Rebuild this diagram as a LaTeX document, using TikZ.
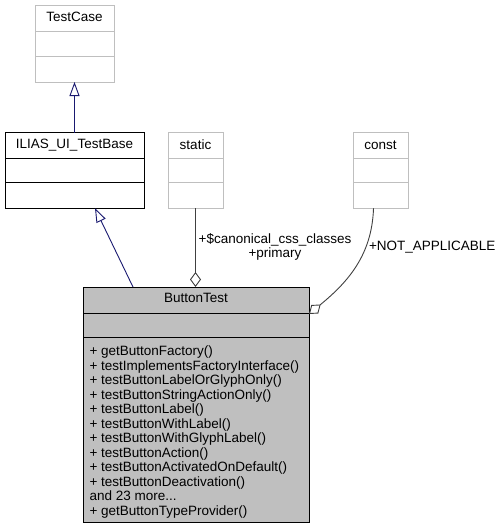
\documentclass[tikz,border=0pt]{standalone}
\usepackage{fontspec}
\setmainfont{Liberation Sans}
\usetikzlibrary{arrows.meta}
\definecolor{edgenavy}{HTML}{191970}
\definecolor{boxgray}{HTML}{BFBFBF}
\definecolor{aggrgray}{HTML}{404040}
\begin{document}
\begin{tikzpicture}[x=1pt, y=-1pt,
    every node/.style={font=\fontsize{13.5}{14.5}\selectfont, inner sep=0pt, outer sep=0pt},
    classbox/.style={draw=black, line width=1pt, rectangle},
    greybox/.style={draw=boxgray, line width=1pt, fill=white, rectangle},
    inherit/.style={draw=edgenavy, line width=0.9pt, -{Triangle[open, length=14pt, width=10pt, fill=white]}},
    aggr/.style={draw=aggrgray, line width=0.9pt, -{Diamond[open, length=15pt, width=11pt, fill=white]}},
    member/.style={anchor=base west},
    title/.style={anchor=base}]
  \useasboundingbox (0,0) rectangle (500,531);

  % classes
  \node[greybox, minimum width=79pt, minimum height=77pt] (testcase) at (74.5,43.5) {};
  \draw[boxgray, line width=1pt] (testcase.north west) ++(0,26.5) -- ++(79,0);
  \draw[boxgray, line width=1pt] (testcase.north west) ++(0,51.5) -- ++(79,0);
  \node[title] (testcase-title) at ([yshift=-16.7pt]testcase.north) {TestCase};

  \node[classbox, minimum width=139pt, minimum height=75.5pt] (tbase) at (74.5,170.5) {};
  \draw[line width=1pt] (tbase.north west) ++(0,25.5) -- ++(139,0);
  \draw[line width=1pt] (tbase.north west) ++(0,50) -- ++(139,0);
  \node[title] (tbase-title) at ([yshift=-16.2pt]tbase.north) {ILIAS\_UI\_TestBase};

  \node[greybox, minimum width=55pt, minimum height=75.5pt] (static) at (195.5,170.5) {};
  \draw[boxgray, line width=1pt] (static.north west) ++(0,25.5) -- ++(55,0);
  \draw[boxgray, line width=1pt] (static.north west) ++(0,50) -- ++(55,0);
  \node[title] (static-title) at ([yshift=-16.5pt]static.north) {static};

  \node[greybox, minimum width=55pt, minimum height=75.5pt] (const) at (380.5,170.5) {};
  \draw[boxgray, line width=1pt] (const.north west) ++(0,25.5) -- ++(55,0);
  \draw[boxgray, line width=1pt] (const.north west) ++(0,50) -- ++(55,0);
  \node[title] (const-title) at ([yshift=-16.5pt]const.north) {const};

  \node[classbox, fill=boxgray, minimum width=226pt, minimum height=235pt] (btest) at (196,404.5) {};
  \draw[line width=1pt] (btest.north west) ++(0,26) -- ++(226,0);
  \draw[line width=1pt] (btest.north west) ++(0,50) -- ++(226,0);
  \node[title] (btest-title) at ([yshift=-15.7pt]btest.north) {ButtonTest};

  \foreach \m [count=\i] in {+ getButtonFactory(), + testImplementsFactoryInterface(),
      + testButtonLabelOrGlyphOnly(), + testButtonStringActionOnly(), + testButtonLabel(),
      + testButtonWithLabel(), + testButtonWithGlyphLabel(), + testButtonAction(),
      + testButtonActivatedOnDefault(), + testButtonDeactivation(), and 23 more{.}{.}{.},
      + getButtonTypeProvider()}
    \node[member] (m\i) at (89.5,{341.1+14.5*\i}) {\m};

  % edges
  \draw[inherit] (tbase.north) -- (testcase.south);
  \draw[inherit] ([xshift=50pt]btest.north west) -- ([xshift=90pt]tbase.south west);

  \draw[aggr] (static.south) -- (static.south |- btest.north);
  \node[title] (lbl-css) at (275,243.3) {+\$canonical\_css\_classes};
  \node[title] (lbl-primary) at (275,257.3) {+primary};

  \draw[aggr] ([xshift=-7pt]const.south) .. controls (372,255) and (348,282) .. ([yshift=-27pt]btest.north east);
  \node[member] (lbl-na) at (369,250.7) {+NOT\_APPLICABLE};
\end{tikzpicture}
\end{document}
